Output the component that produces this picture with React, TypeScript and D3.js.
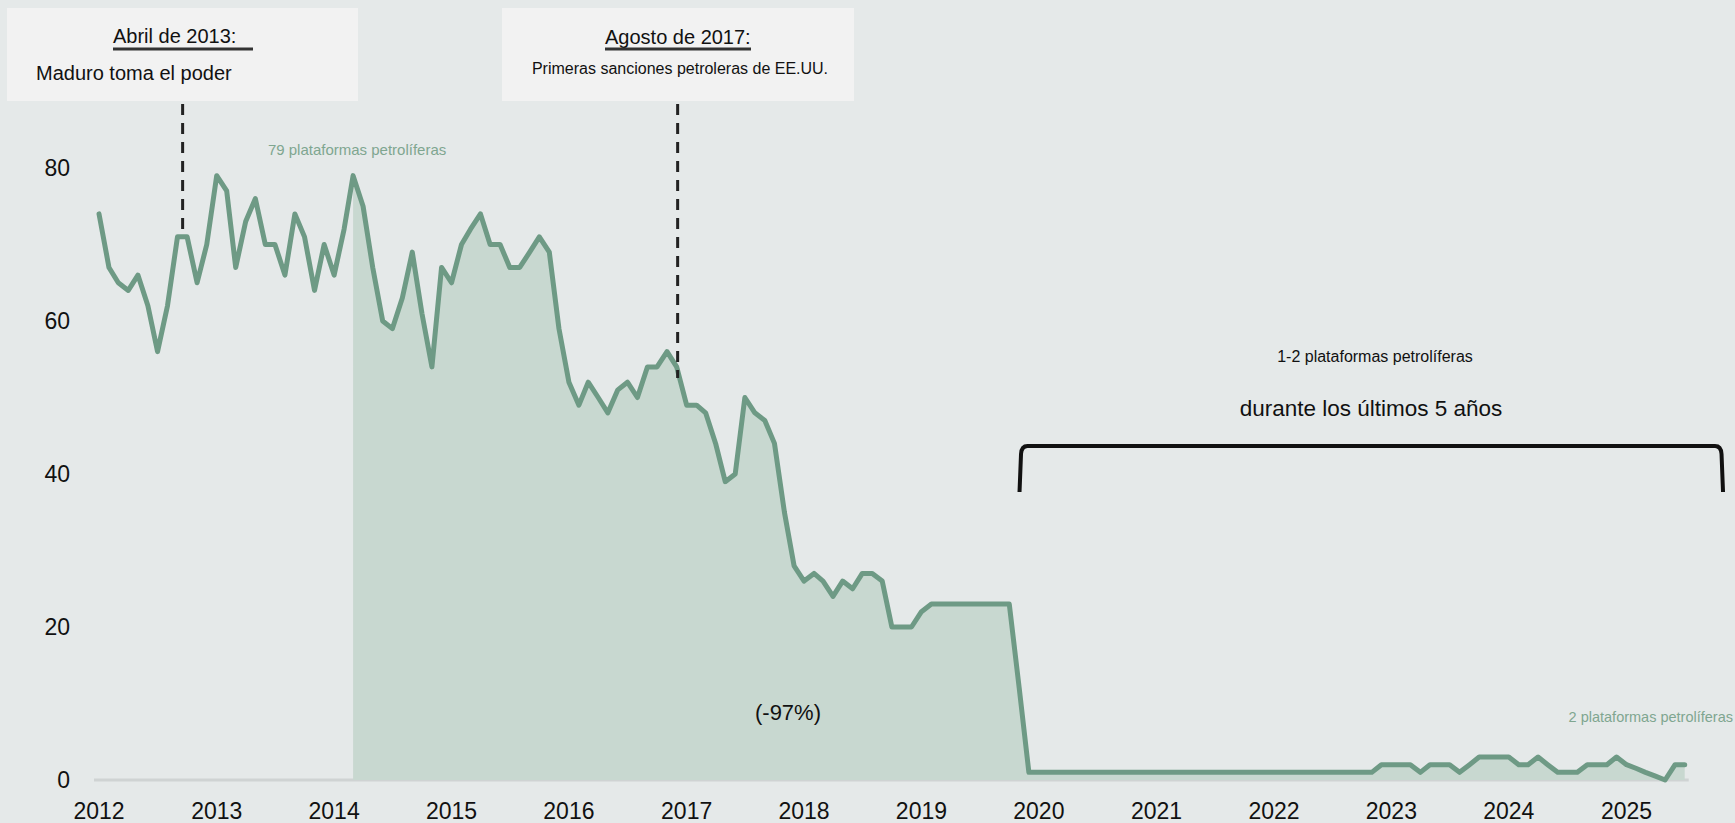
import React from "react";
import * as d3 from "d3";

// ---- data ----
const startMonth = new Date(2012, 0, 1);
const endMonth = new Date(2025, 7, 1); // exclusive -> last = Jul 2025
const rigCounts: number[] = [
  74, 67, 65, 64, 66, 62, 56, 62, 71, 71, 65, 70, // 2012
  79, 77, 67, 73, 76, 70, 70, 66, 74, 71, 64, 70, // 2013
  66, 72, 79, 75, 67, 60, 59, 63, 69, 61, 54, 67, // 2014
  65, 70, 72, 74, 70, 70, 67, 67, 69, 71, 69, 59, // 2015
  52, 49, 52, 50, 48, 51, 52, 50, 54, 54, 56, 54, // 2016
  49, 49, 48, 44, 39, 40, 50, 48, 47, 44, 35, 28, // 2017
  26, 27, 26, 24, 26, 25, 27, 27, 26, 20, 20, 20, // 2018
  22, 23, 23, 23, 23, 23, 23, 23, 23, 23, 12, 1, // 2019
  1, 1, 1, 1, 1, 1, 1, 1, 1, 1, 1, 1, // 2020
  1, 1, 1, 1, 1, 1, 1, 1, 1, 1, 1, 1, // 2021
  1, 1, 1, 1, 1, 1, 1, 1, 1, 1, 1, 2, // 2022
  2, 2, 2, 1, 2, 2, 2, 1, 2, 3, 3, 3, // 2023
  3, 2, 2, 3, 2, 1, 1, 1, 2, 2, 2, 3, // 2024
  2, 1.5, 1, 0.5, 0, 2, 2, // 2025
];
const shadeStart = new Date(2014, 2, 1);
const yTicks = [0, 20, 40, 60, 80];
const xTickYears = [2012, 2013, 2014, 2015, 2016, 2017, 2018, 2019, 2020, 2021, 2022, 2023, 2024, 2025];

const events = [
  { date: new Date(2012, 8, 17), title: "Abril de 2013:", text: "Maduro toma el poder", yEnd: 235 },
  { date: new Date(2016, 11, 4), title: "Agosto de 2017:", text: "Primeras sanciones petroleras de EE.UU.", yEnd: 378 },
];
const bracketStart = new Date(2019, 10, 5);
const bracketEnd = new Date(2025, 9, 25);

const W = 1735;
const H = 823;
const FONT = "'Liberation Sans', Arial, Helvetica, sans-serif";
const LINE = "#6e9a85";
const FILL = "#c8d8d0";
const BG = "#e5e9e9";
const LABEL_GREEN = "#7fa690";

export default function App() {
  const months = d3.timeMonth.range(startMonth, endMonth);
  const data = months.map((d, i) => ({ date: d, v: rigCounts[i] }));

  const x = d3
    .scaleTime()
    .domain([new Date(2012, 0, 1), new Date(2025, 0, 1)])
    .range([99, 1626.5]);
  const y = d3.scaleLinear().domain([0, 80]).range([780, 168]);

  const line = d3
    .line<{ date: Date; v: number }>()
    .x((d) => x(d.date))
    .y((d) => y(d.v));
  const area = d3
    .area<{ date: Date; v: number }>()
    .x((d) => x(d.date))
    .y0(y(0))
    .y1((d) => y(d.v));
  const shaded = data.filter((d) => d.date >= shadeStart);

  const peak = data.find((d) => +d.date === +shadeStart)!;
  const last = data[data.length - 1];

  const bx0 = x(bracketStart);
  const bx1 = x(bracketEnd);
  const by = 446;
  const byEnd = 492;
  const bracketPath = `M${bx0 - 1},${byEnd} L${bx0 + 0.5},${by + 8} Q${bx0 + 1},${by} ${bx0 + 7},${by} L${bx1 - 7},${by} Q${bx1 - 1},${by} ${bx1 - 0.5},${by + 8} L${bx1 + 1},${byEnd}`;

  return (
    <svg
      width={W}
      height={H}
      style={{ position: "absolute", left: 0, top: 0, display: "block", background: BG }}
      fontFamily={FONT}
    >
      <rect x={0} y={0} width={W} height={H} fill={BG} />

      {/* baseline */}
      <line x1={94} x2={x(last.date) + 4} y1={y(0)} y2={y(0)} stroke="#cfd3d3" strokeWidth={3} />

      {/* shaded area */}
      <path d={area(shaded) || ""} fill={FILL} />

      {/* line */}
      <path d={line(data) || ""} fill="none" stroke={LINE} strokeWidth={5} strokeLinejoin="round" strokeLinecap="round" />

      {/* y axis labels */}
      {yTicks.map((t) => (
        <text key={t} x={70} y={y(t)} dy="0.35em" textAnchor="end" fontSize={23} fill="#111">
          {t}
        </text>
      ))}

      {/* x axis labels */}
      {xTickYears.map((yr) => (
        <text key={yr} x={x(new Date(yr, 0, 1))} y={811} dy="0.35em" textAnchor="middle" fontSize={23} fill="#111">
          {yr}
        </text>
      ))}

      {/* annotation boxes */}
      <rect x={7} y={8} width={351} height={93} fill="#f2f2f2" />
      <rect x={502} y={8} width={352} height={93} fill="#f2f2f2" />

      <text x={113} y={36} dy="0.35em" fontSize={20} fill="#111">{events[0].title}</text>
      <line x1={113} x2={253} y1={49} y2={49} stroke="#333" strokeWidth={3} />
      <text x={36} y={73} dy="0.35em" fontSize={20} fill="#111">{events[0].text}</text>

      <text x={605} y={37} dy="0.35em" fontSize={20} fill="#111">{events[1].title}</text>
      <line x1={605} x2={751} y1={49} y2={49} stroke="#333" strokeWidth={3} />
      <text x={680} y={68} dy="0.35em" textAnchor="middle" fontSize={16} fill="#111">{events[1].text}</text>

      {/* dashed event lines */}
      {events.map((e, i) => (
        <line
          key={i}
          x1={x(e.date)}
          x2={x(e.date)}
          y1={104}
          y2={e.yEnd}
          stroke="#222"
          strokeWidth={3}
          strokeDasharray="11 8"
        />
      ))}

      {/* peak label */}
      <text x={x(peak.date) + 4} y={150} dy="0.35em" textAnchor="middle" fontSize={15} fill={LABEL_GREEN}>
        {peak.v} plataformas petrolíferas
      </text>

      {/* -97% */}
      <text x={788} y={712} dy="0.35em" textAnchor="middle" fontSize={22} fill="#111">
        (-97%)
      </text>

      {/* bracket annotation */}
      <text x={1375} y={356} dy="0.35em" textAnchor="middle" fontSize={16} fill="#111">
        1-2 plataformas petrolíferas
      </text>
      <text x={1371} y={408} dy="0.35em" textAnchor="middle" fontSize={22.5} fill="#111">
        durante los últimos 5 años
      </text>
      <path d={bracketPath} fill="none" stroke="#111" strokeWidth={4} />

      {/* last label */}
      <text x={1733} y={717} dy="0.35em" textAnchor="end" fontSize={14.5} fill={LABEL_GREEN}>
        {last.v} plataformas petrolíferas
      </text>
    </svg>
  );
}
